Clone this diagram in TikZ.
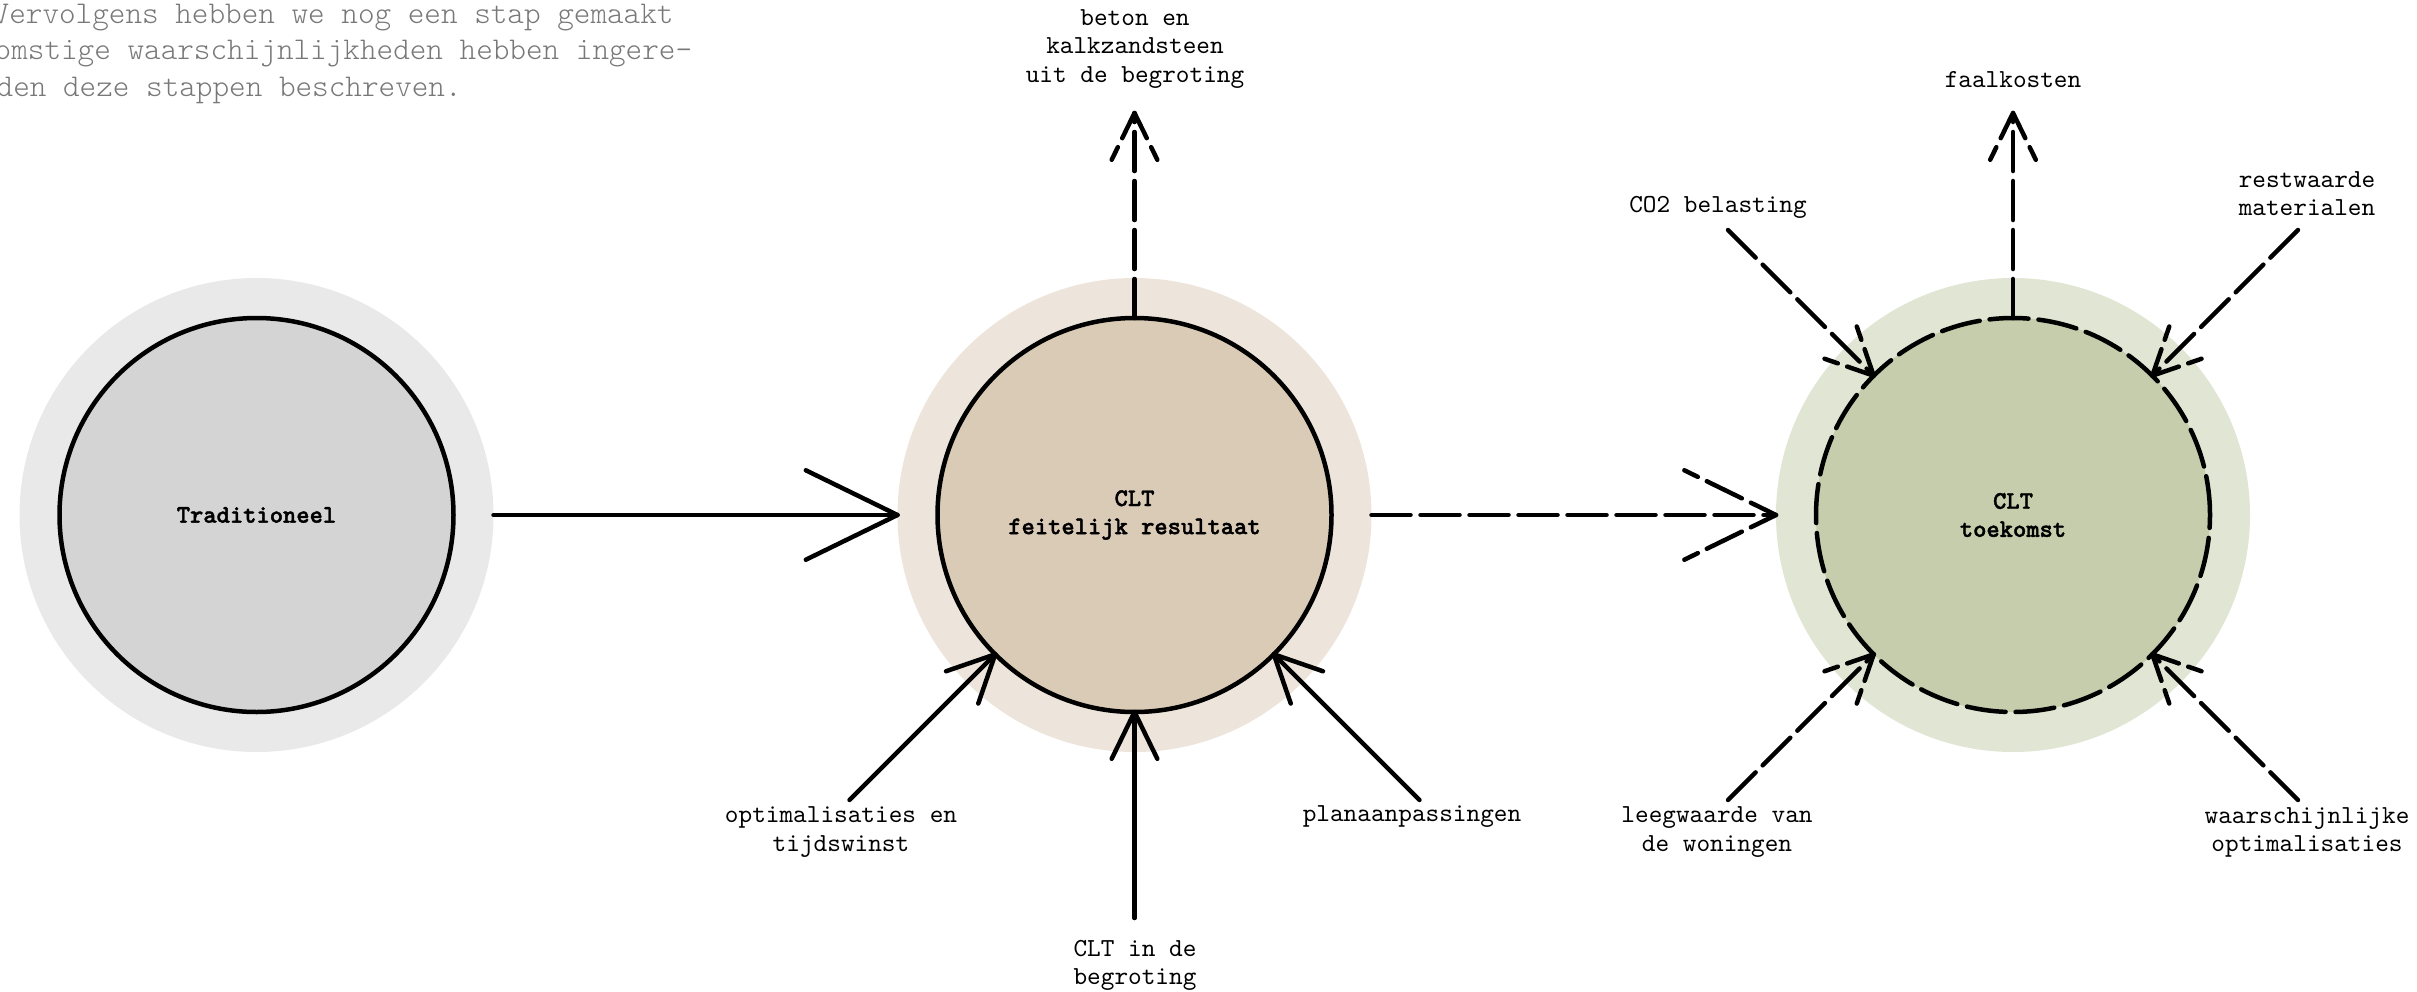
\documentclass[tikz,border=0pt]{standalone}
\usepackage{fontspec}
\usetikzlibrary{calc}
\newfontfamily\labfont{lmmono10-regular.otf}
\newfontfamily\ctrfont{lmmonolt10-bold.otf}[FakeBold=1.6]
\newfontfamily\bodyfont{lmmonolt10-regular.otf}
\definecolor{haloA}{HTML}{E9E9E9}
\definecolor{coreA}{HTML}{D4D4D4}
\definecolor{haloB}{HTML}{EDE5DB}
\definecolor{coreB}{HTML}{DACBB6}
\definecolor{haloC}{HTML}{E1E6D4}
\definecolor{coreC}{HTML}{C5CDAC}
\definecolor{bodygray}{HTML}{787878}
\newcommand\openhead[4]{\draw[#4] (#1) -- ++({#2+206}:#3) (#1) -- ++({#2+154}:#3);}
\tikzset{
  halo/.style={circle, minimum size=47.4mm, inner sep=0pt, outer sep=0pt, fill=#1},
  core/.style={circle, minimum size=39.4mm, inner sep=0pt, outer sep=0pt, fill=#1, draw=black,
    line width=0.45mm, font=\ctrfont\fontsize{7.2}{8}\selectfont, align=center},
  solidln/.style={line width=0.45mm, line cap=round, line join=round},
  dashln/.style={solidln, dash pattern=on 3.9mm off 1mm},
  dashhead/.style={dashln, dash phase=1.1mm},
  lab/.style={font=\labfont\fontsize{7.4}{8}\selectfont, align=center, inner sep=0pt},
  body/.style={anchor=base west, inner sep=0pt, font=\bodyfont\fontsize{9}{10.4}\selectfont, text=bodygray}
}
\begin{document}
\begin{tikzpicture}[x=0.1mm, y=0.1mm]
\useasboundingbox (0,0) rectangle (2417,991);
% intro text
\node[body] (p1) at (-8,968) {Vervolgens hebben we nog een stap gemaakt};
\node[body] (p2) at (-6,932) {omstige waarschijnlijkheden hebben ingere-};
\node[body] (p3) at (-4,895) {den deze stappen beschreven.};
% circles
\node[halo=haloA] (h1) at (256.5,476) {};
\node[core=coreA] (c1) at (256.5,476) {Traditioneel};
\node[halo=haloB] (h2) at (1134.5,476) {};
\node[core=coreB] (c2) at (1134.5,476) {CLT\\feitelijk resultaat};
\node[halo=haloC] (h3) at (2013,476) {};
\node[core=coreC, dash pattern=on 3.9mm off 1mm, line cap=round] (c3) at (2013,476) {CLT\\toekomst};
% main arrows
\draw[solidln] (h1.east) -- (h2.west);
\openhead{h2.west}{0}{102}{solidln}
\draw[dashln] (h2.east) -- (h3.west);
\openhead{h3.west}{0}{102}{dashhead}
% circle 2 arrows
\coordinate (t2n) at ($(c2.center)+(90:402)$);
\coordinate (t2a) at ($(c2.center)+(225:403)$);
\coordinate (t2b) at ($(c2.center)+(270:403)$);
\coordinate (t2c) at ($(c2.center)+(315:403)$);
\draw[dashln] (c2.north) -- (t2n);
\openhead{t2n}{90}{52}{dashhead}
\draw[solidln] (t2a) -- (c2.225);
\openhead{c2.225}{45}{52}{solidln}
\draw[solidln] (t2b) -- (c2.south);
\openhead{c2.south}{90}{52}{solidln}
\draw[solidln] (t2c) -- (c2.315);
\openhead{c2.315}{135}{52}{solidln}
% circle 3 arrows
\coordinate (t3n) at ($(c3.center)+(90:402)$);
\coordinate (t3a) at ($(c3.center)+(135:403)$);
\coordinate (t3b) at ($(c3.center)+(45:403)$);
\coordinate (t3c) at ($(c3.center)+(225:403)$);
\coordinate (t3d) at ($(c3.center)+(315:403)$);
\draw[dashln] (c3.north) -- (t3n);
\openhead{t3n}{90}{52}{dashhead}
\draw[dashln] (t3a) -- (c3.135);
\openhead{c3.135}{315}{52}{dashhead}
\draw[dashln] (t3b) -- (c3.45);
\openhead{c3.45}{225}{52}{dashhead}
\draw[dashln] (t3c) -- (c3.225);
\openhead{c3.225}{45}{52}{dashhead}
\draw[dashln] (t3d) -- (c3.315);
\openhead{c3.315}{135}{52}{dashhead}
% labels
\node[lab] (l1) at (1135,942) {beton en\\kalkzandsteen\\uit de begroting};
\node[lab] (l2) at (841,159) {optimalisaties en\\tijdswinst};
\node[lab] (l3) at (1412,174) {planaanpassingen};
\node[lab] (l4) at (1135,26) {CLT in de\\begroting};
\node[lab] (l5) at (2013,911) {faalkosten};
\node[lab] (l6) at (1718,784) {CO2 belasting};
\node[lab] (l7) at (2307,797) {restwaarde\\materialen};
\node[lab] (l8) at (1717,159) {leegwaarde van\\de woningen};
\node[lab] (l9) at (2307,159) {waarschijnlijke\\optimalisaties};
\end{tikzpicture}
\end{document}
